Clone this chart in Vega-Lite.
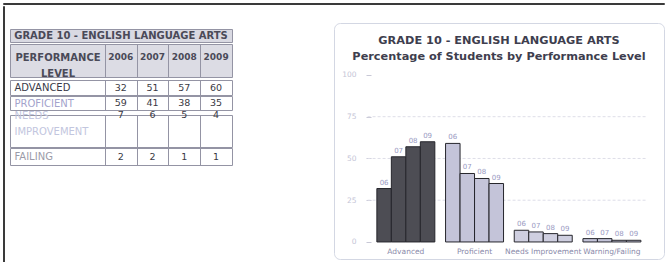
{
  "$schema": "https://vega.github.io/schema/vega-lite/v6.json",
  "padding": {"left": 2, "top": 2, "right": 0, "bottom": 0},
  "background": "white",
  "config": {
    "font": "DejaVu Sans",
    "view": {"stroke": null},
    "axis": {"labelFont": "DejaVu Sans"},
    "axisX": {"labelPadding": 0, "tickSize": 0, "minExtent": 0, "maxExtent": 0}
  },
  "datasets": {
    "scores": [
      {"level": "Advanced", "row": "ADVANCED", "yr": 2006, "short": "06", "value": 32},
      {"level": "Advanced", "row": "ADVANCED", "yr": 2007, "short": "07", "value": 51},
      {"level": "Advanced", "row": "ADVANCED", "yr": 2008, "short": "08", "value": 57},
      {"level": "Advanced", "row": "ADVANCED", "yr": 2009, "short": "09", "value": 60},
      {"level": "Proficient", "row": "PROFICIENT", "yr": 2006, "short": "06", "value": 59},
      {"level": "Proficient", "row": "PROFICIENT", "yr": 2007, "short": "07", "value": 41},
      {"level": "Proficient", "row": "PROFICIENT", "yr": 2008, "short": "08", "value": 38},
      {"level": "Proficient", "row": "PROFICIENT", "yr": 2009, "short": "09", "value": 35},
      {"level": "Needs Improvement", "row": "NEEDS IMPROVEMENT", "yr": 2006, "short": "06", "value": 7},
      {"level": "Needs Improvement", "row": "NEEDS IMPROVEMENT", "yr": 2007, "short": "07", "value": 6},
      {"level": "Needs Improvement", "row": "NEEDS IMPROVEMENT", "yr": 2008, "short": "08", "value": 5},
      {"level": "Needs Improvement", "row": "NEEDS IMPROVEMENT", "yr": 2009, "short": "09", "value": 4},
      {"level": "Warning/Failing", "row": "FAILING", "yr": 2006, "short": "06", "value": 2},
      {"level": "Warning/Failing", "row": "FAILING", "yr": 2007, "short": "07", "value": 2},
      {"level": "Warning/Failing", "row": "FAILING", "yr": 2008, "short": "08", "value": 1},
      {"level": "Warning/Failing", "row": "FAILING", "yr": 2009, "short": "09", "value": 1}
    ],
    "header": [
      {"yr": 2006}, {"yr": 2007}, {"yr": 2008}, {"yr": 2009}
    ],
    "gridlines": [{"g": 25}, {"g": 50}, {"g": 75}]
  },
  "spacing": 0,
  "vconcat": [
    {"width": 661, "height": 1, "view": {"stroke": "#3a3a3a", "strokeWidth": 1}, "data": {"values": []}, "mark": "text", "encoding": {}},
    {
      "spacing": 4,
      "hconcat": [
        {"width": 1, "height": 256, "view": {"stroke": "#3a3a3a", "strokeWidth": 1}, "data": {"values": []}, "mark": "text", "encoding": {}},
        {
          "spacing": 100,
          "hconcat": [
            {
              "spacing": 0,
              "vconcat": [
                {"width": 222, "height": 22, "data": {"values": []}, "mark": "text", "encoding": {}},
                {
                  "width": 222, "height": 13,
                  "view": {"fill": "#d9d9e2", "stroke": "#9494a4"},
                  "data": {"values": [{"t": "GRADE 10 - ENGLISH LANGUAGE ARTS"}]},
                  "mark": {"type": "text", "fontWeight": "bold", "fontSize": 10, "color": "#4a4a58"},
                  "encoding": {"text": {"field": "t"}}
                },
                {
                  "spacing": -2,
                  "vconcat": [
                    {
                      "width": 222, "height": 33,
                      "view": {"fill": "#dcdce4", "stroke": "#9494a4"},
                      "data": {"name": "header"},
                      "mark": {"type": "text", "fontWeight": "bold", "fontSize": 9, "color": "#4a4a58"},
                      "encoding": {
                        "x": {"field": "yr", "type": "quantitative", "scale": {"domain": [2002.51, 2009.5], "nice": false, "zero": false},
                          "axis": {"values": [2005.5, 2006.5, 2007.5, 2008.5], "grid": true, "gridColor": "#9494a4", "gridOpacity": 1, "labels": false, "ticks": false, "domain": false, "title": null}},
                        "y": {"datum": "PERFORMANCE", "type": "nominal",
                          "scale": {"domain": ["PERFORMANCE", "LEVEL"], "paddingInner": 0, "paddingOuter": 0.18, "align": 0.8},
                          "axis": {"title": null, "labelAlign": "center", "labelPadding": -47.5, "tickSize": 0, "ticks": false, "domain": false, "labelFontSize": 10, "labelFontWeight": "bold", "labelColor": "#4a4a58", "labelLimit": 300}},
                        "text": {"field": "yr", "type": "quantitative", "format": "d"}
                      }
                    },
                    {
                      "width": 222, "height": 15,
                      "view": {"fill": "white", "stroke": "#9494a4"},
                      "data": {"name": "scores"},
                      "transform": [{"filter": "datum.row === 'ADVANCED'"}],
                      "mark": {"type": "text", "fontSize": 9.5, "color": "#3a3a44"},
                      "encoding": {
                        "x": {"field": "yr", "type": "quantitative", "scale": {"domain": [2002.51, 2009.5], "nice": false, "zero": false},
                          "axis": {"values": [2005.5, 2006.5, 2007.5, 2008.5], "grid": true, "gridColor": "#9494a4", "gridOpacity": 1, "labels": false, "ticks": false, "domain": false, "title": null}},
                        "y": {"field": "row", "type": "nominal",
                          "axis": {"title": null, "labelAlign": "left", "labelPadding": -4, "tickSize": 0, "ticks": false, "domain": false, "labelFontSize": 10, "labelColor": "#3a3a48"}},
                        "text": {"field": "value", "type": "quantitative"}
                      }
                    },
                    {
                      "width": 222, "height": 14,
                      "view": {"fill": "white", "stroke": "#9494a4"},
                      "data": {"name": "scores"},
                      "transform": [{"filter": "datum.row === 'PROFICIENT'"}],
                      "mark": {"type": "text", "fontSize": 9.5, "color": "#3a3a44"},
                      "encoding": {
                        "x": {"field": "yr", "type": "quantitative", "scale": {"domain": [2002.51, 2009.5], "nice": false, "zero": false},
                          "axis": {"values": [2005.5, 2006.5, 2007.5, 2008.5], "grid": true, "gridColor": "#9494a4", "gridOpacity": 1, "labels": false, "ticks": false, "domain": false, "title": null}},
                        "y": {"field": "row", "type": "nominal",
                          "axis": {"title": null, "labelAlign": "left", "labelPadding": -4, "tickSize": 0, "ticks": false, "domain": false, "labelFontSize": 10, "labelColor": "#a3a3cc"}},
                        "text": {"field": "value", "type": "quantitative"}
                      }
                    },
                    {
                      "width": 222, "height": 32,
                      "view": {"fill": "white", "stroke": "#9494a4"},
                      "data": {"name": "scores"},
                      "transform": [{"filter": "datum.row === 'NEEDS IMPROVEMENT'"}],
                      "mark": {"type": "text", "fontSize": 9.5, "color": "#3a3a44"},
                      "encoding": {
                        "x": {"field": "yr", "type": "quantitative", "scale": {"domain": [2002.51, 2009.5], "nice": false, "zero": false},
                          "axis": {"values": [2005.5, 2006.5, 2007.5, 2008.5], "grid": true, "gridColor": "#9494a4", "gridOpacity": 1, "labels": false, "ticks": false, "domain": false, "title": null}},
                        "y": {"datum": "NEEDS", "type": "nominal",
                          "scale": {"domain": ["NEEDS", "IMPROVEMENT"], "paddingInner": 0, "paddingOuter": 0.143, "align": 0},
                          "axis": {"title": null, "labelAlign": "left", "labelPadding": -4, "tickSize": 0, "ticks": false, "domain": false, "labelFontSize": 10, "labelColor": "#c2c6de"}},
                        "text": {"field": "value", "type": "quantitative"}
                      }
                    },
                    {
                      "width": 222, "height": 17,
                      "view": {"fill": "white", "stroke": "#9494a4"},
                      "data": {"name": "scores"},
                      "transform": [{"filter": "datum.row === 'FAILING'"}],
                      "mark": {"type": "text", "fontSize": 9.5, "color": "#3a3a44"},
                      "encoding": {
                        "x": {"field": "yr", "type": "quantitative", "scale": {"domain": [2002.51, 2009.5], "nice": false, "zero": false},
                          "axis": {"values": [2005.5, 2006.5, 2007.5, 2008.5], "grid": true, "gridColor": "#9494a4", "gridOpacity": 1, "labels": false, "ticks": false, "domain": false, "title": null}},
                        "y": {"field": "row", "type": "nominal",
                          "axis": {"title": null, "labelAlign": "left", "labelPadding": -4, "tickSize": 0, "ticks": false, "domain": false, "labelFontSize": 10, "labelColor": "#9b9ba8"}},
                        "text": {"field": "value", "type": "quantitative"}
                      }
                    }
                  ]
                }
              ]
            },
            {
              "spacing": 0,
              "vconcat": [
                {"width": 330, "height": 16, "data": {"values": []}, "mark": "text", "encoding": {}},
                {
                  "width": 330, "height": 236,
                  "view": {"stroke": "#d3d7e3", "cornerRadius": 6, "fill": "white"},
                  "title": {
                    "text": "GRADE 10 - ENGLISH LANGUAGE ARTS",
                    "subtitle": "Percentage of Students by Performance Level",
                    "anchor": "middle", "offset": -39,
                    "font": "DejaVu Sans", "fontSize": 11.3, "fontWeight": "bold", "color": "#3e3e4e",
                    "subtitleFont": "DejaVu Sans", "subtitleFontSize": 11.3, "subtitleFontWeight": "bold", "subtitleColor": "#3e3e4e",
                    "subtitlePadding": 4
                  },
                  "layer": [
                    {
                      "data": {"name": "gridlines"},
                      "mark": {"type": "rule", "color": "#dedee8", "strokeDash": [3, 2], "strokeWidth": 1},
                      "encoding": {
                        "y": {"field": "g", "type": "quantitative"},
                        "x": {"datum": "Advanced", "bandPosition": -0.16},
                        "x2": {"datum": "Warning/Failing", "bandPosition": 1.1}
                      }
                    },
                    {
                      "data": {"name": "scores"},
                      "mark": {"type": "bar", "stroke": "#26262c", "strokeWidth": 1},
                      "encoding": {
                        "x": {"field": "level", "type": "nominal"},
                        "xOffset": {"field": "short", "type": "nominal", "scale": {"paddingInner": 0, "paddingOuter": 0}},
                        "y": {"field": "value", "type": "quantitative"},
                        "y2": {"datum": 0},
                        "color": {"field": "level", "type": "nominal",
                          "scale": {"domain": ["Advanced", "Proficient", "Needs Improvement", "Warning/Failing"], "range": ["#4d4d54", "#c4c4d9", "#cfcfe0", "#c4c4d9"]},
                          "legend": null}
                      }
                    },
                    {
                      "data": {"name": "scores"},
                      "mark": {"type": "text", "baseline": "bottom", "dy": -3, "fontSize": 7, "color": "#9a9ac2"},
                      "encoding": {
                        "x": {"field": "level", "type": "nominal"},
                        "xOffset": {"field": "short", "type": "nominal"},
                        "y": {"field": "value", "type": "quantitative"},
                        "text": {"field": "short"}
                      }
                    }
                  ],
                  "encoding": {
                    "x": {"field": "level", "type": "nominal",
                      "scale": {"domain": ["Advanced", "Proficient", "Needs Improvement", "Warning/Failing"], "paddingInner": 0.156, "paddingOuter": 0.48, "align": 0.65},
                      "axis": {"title": null, "labelAngle": 0, "labelFontSize": 7.5, "labelColor": "#8a8aaa", "ticks": false, "tickSize": 0, "domain": false, "offset": -14, "labelPadding": 2, "labelOverlap": false, "labelBound": false, "maxExtent": 200}},
                    "y": {"field": "value", "type": "quantitative",
                      "scale": {"domain": [-10.2, 131.1], "nice": false, "zero": false},
                      "axis": {"title": null, "values": [0, 25, 50, 75, 100], "offset": -37, "tickSize": 5, "tickColor": "#c8c8d6", "labelPadding": 10, "labelFontSize": 7.5, "labelColor": "#c4c4d6", "domain": false, "grid": false}}
                  }
                }
              ]
            }
          ]
        }
      ]
    }
  ]
}
